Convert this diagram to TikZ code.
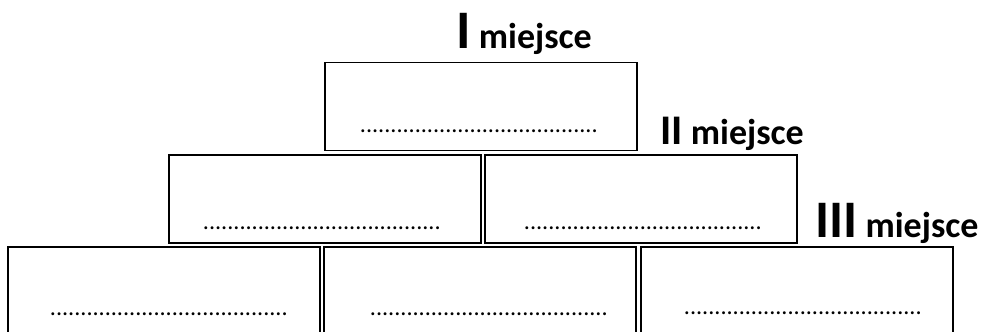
\documentclass[tikz,border=0pt]{standalone}
\usepackage{fontspec}
\setmainfont{Carlito}
\usetikzlibrary{positioning}

\tikzset{
    slot/.style={draw, line width=1pt,
        minimum width=7.8cm, minimum height=2.2cm, inner sep=0pt},
    dotfill/.style={font=\fontsize{17.2}{17.2}\selectfont, anchor=base, inner sep=0pt},
    place/.style={font=\bfseries\fontsize{25.6}{26}\selectfont, anchor=base west, inner sep=0pt},
}
\newcommand{\dotline}{.......................................}
\newcommand{\rank}[2]{{\fontsize{#1}{#1}\selectfont #2}}

\begin{document}
\begin{tikzpicture}[x=0.025cm, y=-0.025cm]
        \useasboundingbox (0,0) rectangle (984,331);
        \clip (0,0) rectangle (984,331);
        % podium boxes
        \node[slot] (first) at (481,106.5) {};
        \node[slot] (secondl) at (325,199) {};
        \node[slot] (secondr) at (641,199) {};
        \node[slot] (thirdl) at (164,291) {};
        \node[slot] (thirdm) at (480,291) {};
        \node[slot] (thirdr) at (797,291) {};
        % lines to write on
        \node[dotfill] (d1) at (479,132) {\dotline};
        \node[dotfill] (d2) at (322,229) {\dotline};
        \node[dotfill] (d3) at (643,229) {\dotline};
        \node[dotfill] (d4) at (169,315) {\dotline};
        \node[dotfill] (d5) at (489,315) {\dotline};
        \node[dotfill] (d6) at (803,314) {\dotline};
        % places
        \node[place] (p1) at (456,48) {\rank{38.6}{I} miejsce};
        \node[place] (p2) at (660,144) {\rank{30}{II} miejsce};
        \node[place] (p3) at (815,237) {\rank{37.5}{III} miejsce};
    \end{tikzpicture}
\end{document}
